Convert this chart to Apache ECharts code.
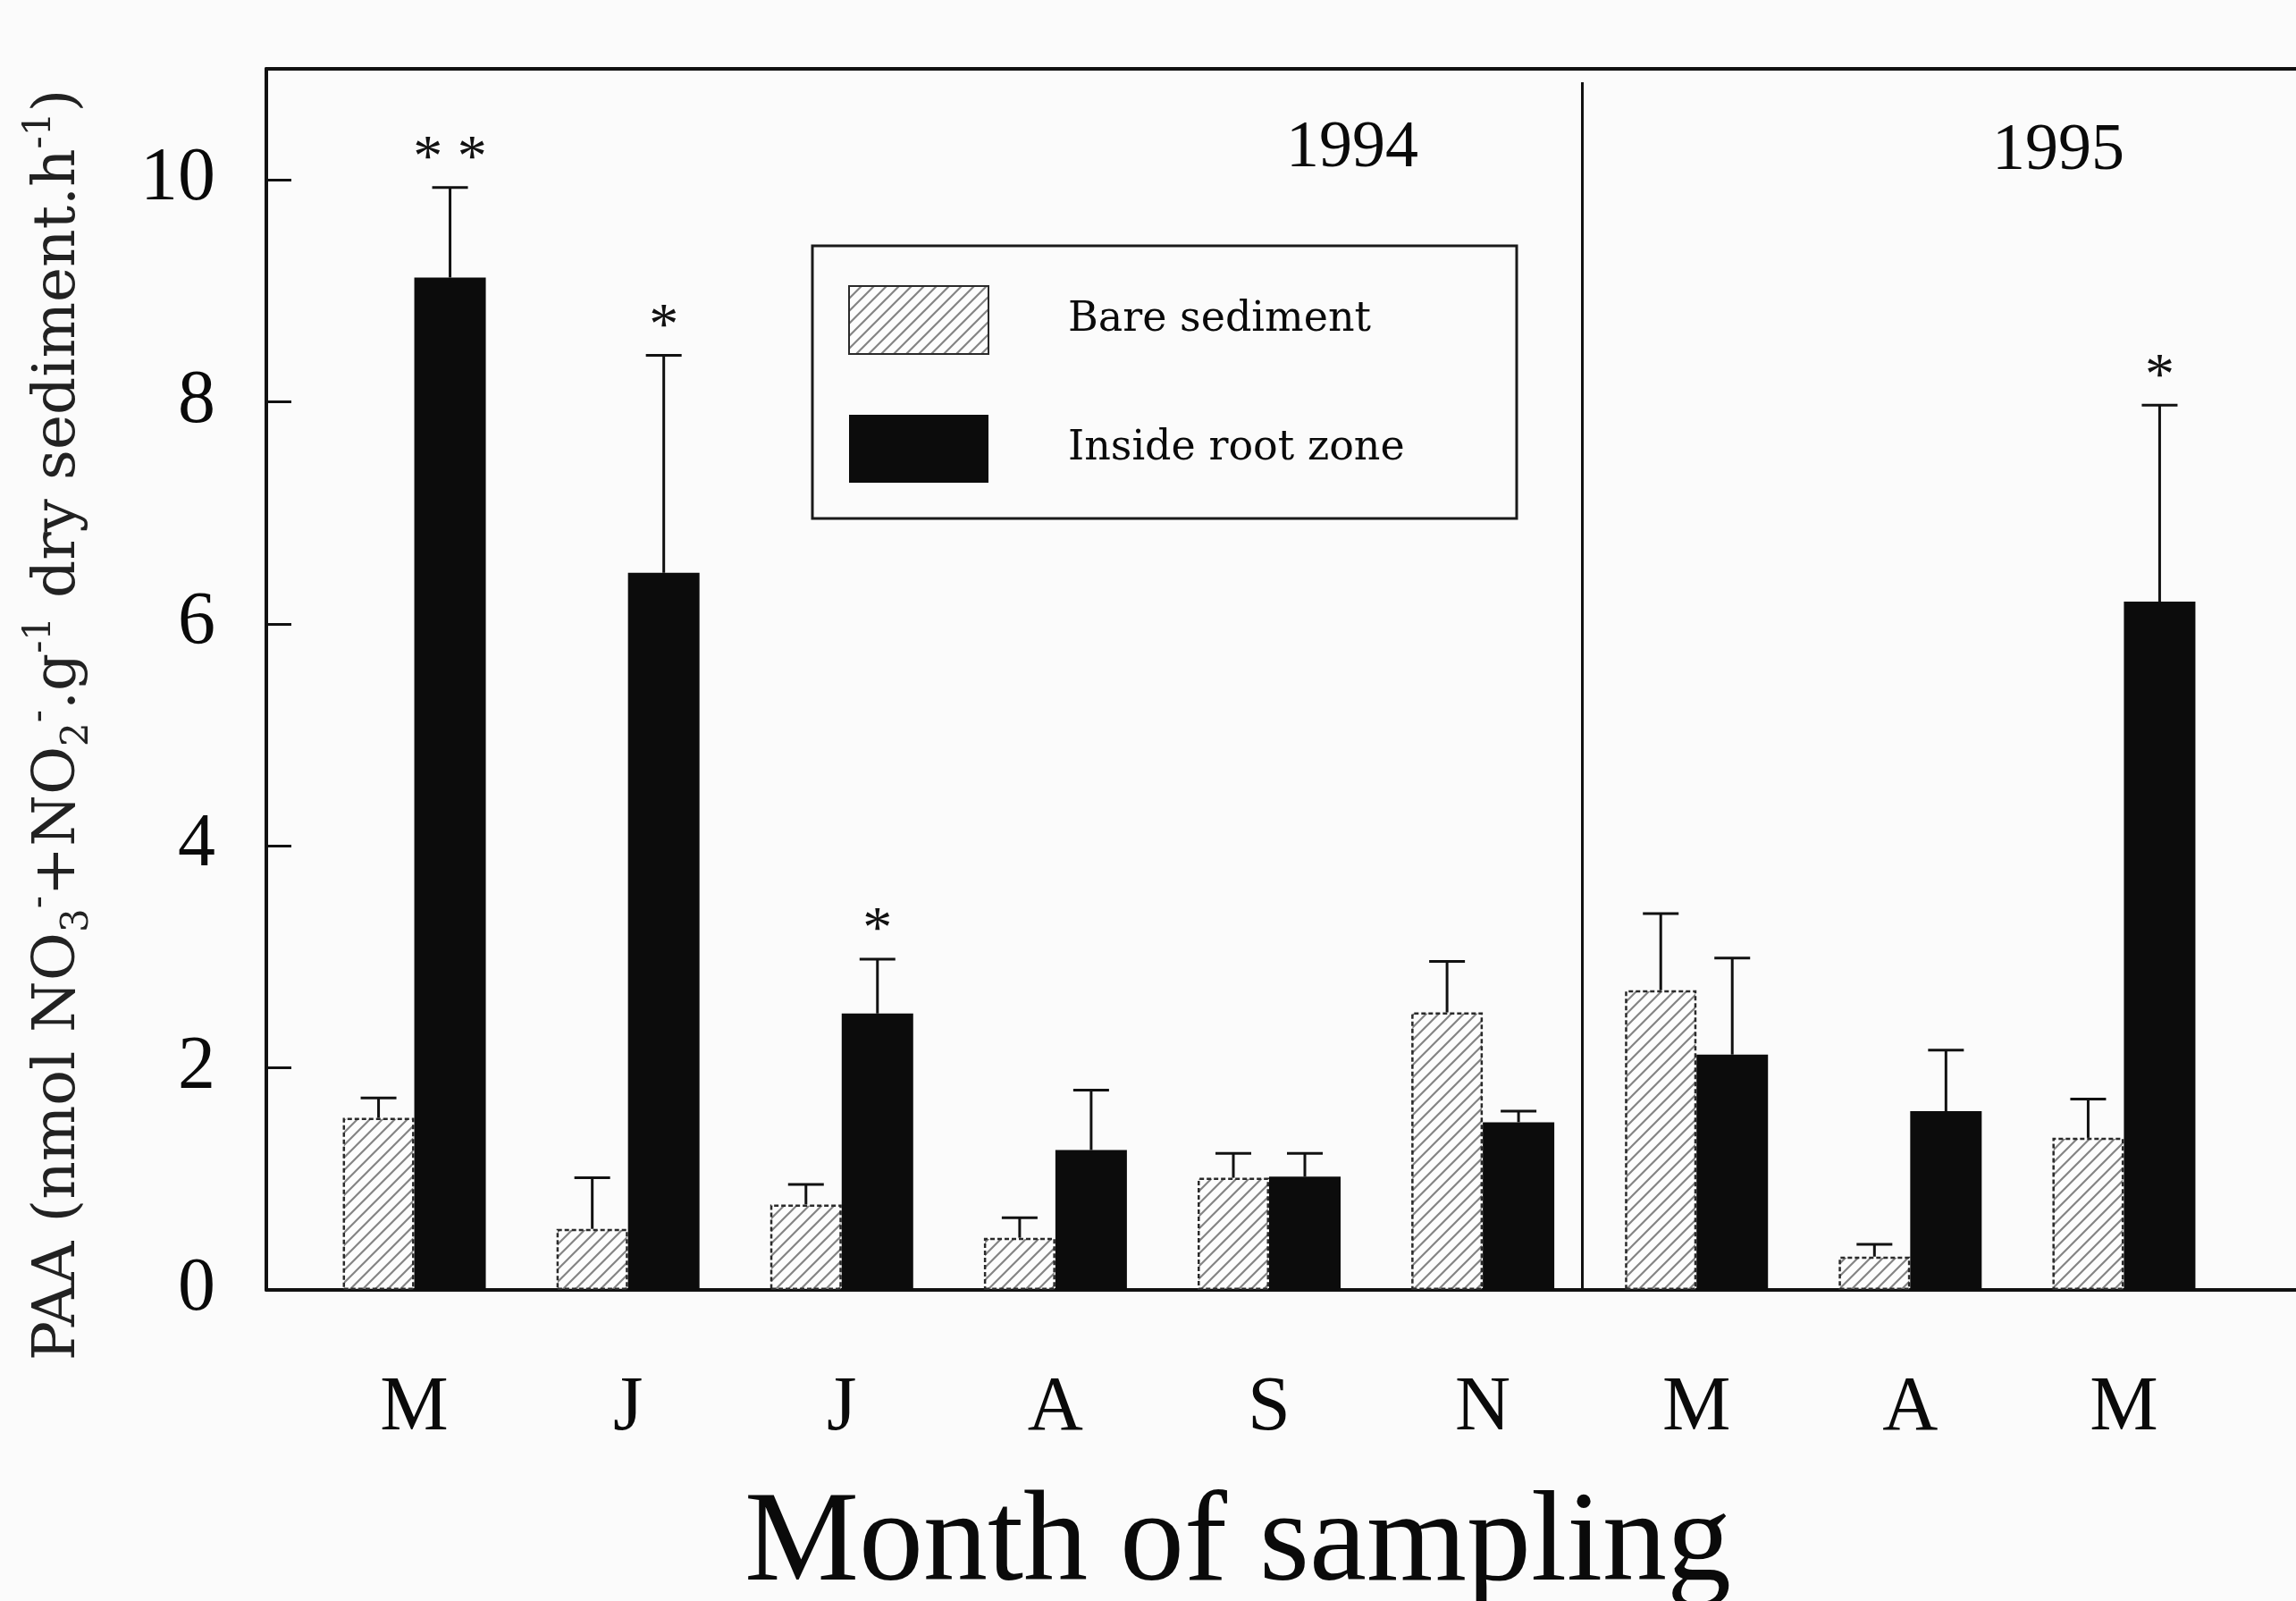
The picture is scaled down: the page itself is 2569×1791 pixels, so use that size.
<!DOCTYPE html>
<html>
<head>
<meta charset="utf-8">
<title>PAA</title>
<script src="https://cdn.jsdelivr.net/npm/echarts@6/dist/echarts.min.js"></script>
<style>
html, body { margin: 0; padding: 0; background: #fbfbfb; }
#chart { width: 2569px; height: 1791px; }
</style>
</head>
<body>
<div id="chart"></div>
<script>
// months sampled (1994: M J J A S N, 1995: M A M)
var months   = ['M', 'J', 'J', 'A', 'S', 'N', 'M', 'A', 'M'];
var bareMean = [1.55, 0.55, 0.77, 0.47, 1.01, 2.50, 2.70, 0.30, 1.37];
var bareTop  = [1.73, 1.01, 0.95, 0.65, 1.23, 2.96, 3.39, 0.41, 1.72];   // mean + error
var rootMean = [9.12, 6.46, 2.49, 1.26, 1.02, 1.51, 2.12, 1.61, 6.20];
var rootTop  = [9.93, 8.42, 2.98, 1.80, 1.23, 1.61, 2.99, 2.16, 7.97];
var rootSig  = ['**', '*', '*', '', '', '', '', '', '*'];
var years    = ['1994', '1995'];
var yMin = 0, yMax = 11, yStep = 2;
var yearSplit = 5.47;      // between N (1994) and M (1995), category units
var frameMin = -0.69, frameMax = 8.81;

var BAR_W = 80;
var SERIF = '"Liberation Serif", "Times New Roman", serif';
var SERIF2 = '"DejaVu Serif", serif';

function hatch() {
    var c = document.createElement('canvas');
    c.width = 14; c.height = 14;
    var g = c.getContext('2d');
    g.fillStyle = '#fdfdfd';
    g.fillRect(0, 0, 14, 14);
    g.strokeStyle = '#858585';
    g.lineWidth = 2.2;
    g.beginPath();
    g.moveTo(0, 14); g.lineTo(14, 0);
    g.moveTo(-2, 2); g.lineTo(2, -2);
    g.moveTo(12, 16); g.lineTo(16, 12);
    g.stroke();
    return c;
}

function errBars(mean, top, side, sig) {
    return {
        type: 'custom',
        xAxisIndex: 1,
        yAxisIndex: 1,
        z: 5,
        silent: true,
        data: mean.map(function (m, i) { return [i, m, top[i]]; }),
        renderItem: function (params, api) {
            var i = api.value(0);
            var p0 = api.coord([i, api.value(1)]);
            var p1 = api.coord([i, api.value(2)]);
            var x = p0[0] + side * BAR_W / 2;
            var st = { stroke: '#111', lineWidth: 3 };
            var kids = [
                { type: 'line', shape: { x1: x, y1: p0[1], x2: x, y2: p1[1] }, style: st },
                { type: 'line', shape: { x1: x - 20, y1: p1[1], x2: x + 20, y2: p1[1] }, style: st }
            ];
            var s = sig ? sig[params.dataIndex] : '';
            if (s) {
                kids.push({
                    type: 'text',
                    x: x, y: p1[1] + 2,
                    style: {
                        text: s.split('').join(' '), fill: '#111', fontSize: 66, fontFamily: SERIF,
                        align: 'center', verticalAlign: 'bottom'
                    }
                });
            }
            return { type: 'group', children: kids };
        }
    };
}

var myChart = echarts.init(document.getElementById('chart'));

var option = {
    backgroundColor: '#fbfbfb',
    animation: false,
    textStyle: { fontFamily: SERIF, color: '#111' },
    grid: [
        // frame
        { left: 298, right: 0, top: 77, bottom: 348, containLabel: false, outerBoundsMode: 'none' },
        // bars
        { left: 344, right: 73, top: 77, bottom: 348, containLabel: false, outerBoundsMode: 'none' }
    ],
    legend: {
        orient: 'vertical',
        left: 949,
        top: 319,
        padding: 0,
        icon: 'rect',
        itemWidth: 156,
        itemHeight: 76,
        itemGap: 67,
        data: ['Bare sediment', 'Inside root zone'],
        textStyle: { fontFamily: SERIF2, fontSize: 46, color: '#0a0a0a', padding: [12, 0, 0, 84] }
    },
    xAxis: [
        {
            type: 'value', gridIndex: 0, min: frameMin, max: frameMax, position: 'bottom',
            axisLine: { show: true, onZero: false, lineStyle: { color: '#111', width: 4 } },
            axisTick: { show: false }, axisLabel: { show: false }, splitLine: { show: false }
        },
        {
            type: 'category', gridIndex: 1, data: months,
            axisLine: { show: false }, axisTick: { show: false }, splitLine: { show: false },
            axisLabel: { margin: 90, fontSize: 86, fontFamily: SERIF, color: '#0a0a0a' },
            name: 'Month of sampling',
            nameLocation: 'middle',
            nameGap: 214,
            nameTextStyle: { fontSize: 144, fontFamily: SERIF, color: '#0a0a0a', padding: [0, 70, 0, 0] }
        },
        {
            type: 'value', gridIndex: 0, min: frameMin, max: frameMax, position: 'top',
            axisLine: { show: true, onZero: false, lineStyle: { color: '#111', width: 4 } },
            axisTick: { show: false }, axisLabel: { show: false }, splitLine: { show: false }
        }
    ],
    yAxis: [
        {
            type: 'value', gridIndex: 0, min: yMin, max: yMax, interval: yStep,
            axisLine: { show: true, onZero: false, lineStyle: { color: '#111', width: 4 } },
            axisTick: { show: true, inside: true, length: 28, lineStyle: { color: '#111', width: 3 } },
            axisLabel: { margin: 57, fontSize: 84, fontFamily: SERIF, color: '#0a0a0a', showMaxLabel: false, padding: [22, 0, 0, 0] },
            splitLine: { show: false },
            name: 'PAA (nmol NO{sub|3}{sup|-}+NO{sub|2}{sup|-}.g{sup|-1} dry sediment.h{sup|-1})',
            nameLocation: 'middle',
            nameRotate: 90,
            nameGap: 190,
            nameTextStyle: {
                fontFamily: SERIF2, fontSize: 66, lineHeight: 84, color: '#222',
                padding: [0, 102, 0, 0],
                rich: {
                    sub: { fontFamily: SERIF2, fontSize: 42, lineHeight: 42, verticalAlign: 'bottom', color: '#222' },
                    sup: { fontFamily: SERIF2, fontSize: 42, lineHeight: 42, verticalAlign: 'top', color: '#222' }
                }
            }
        },
        {
            type: 'value', gridIndex: 1, min: yMin, max: yMax, interval: yStep, show: false
        }
    ],
    graphic: [
        {
            type: 'rect', z: 10, silent: true,
            shape: { x: 909, y: 275, width: 788, height: 305 },
            style: { fill: 'none', stroke: '#1a1a1a', lineWidth: 3 }
        },
        {
            type: 'text', x: 1513, y: 167, z: 10, silent: true,
            style: { text: years[0], fill: '#0a0a0a', fontSize: 74, fontFamily: SERIF, align: 'center', verticalAlign: 'middle' }
        },
        {
            type: 'text', x: 2303, y: 170, z: 10, silent: true,
            style: { text: years[1], fill: '#0a0a0a', fontSize: 74, fontFamily: SERIF, align: 'center', verticalAlign: 'middle' }
        }
    ],
    series: [
        {
            name: 'Bare sediment',
            type: 'bar',
            xAxisIndex: 1, yAxisIndex: 1,
            barWidth: BAR_W,
            barGap: '0%',
            data: bareMean,
            itemStyle: {
                color: { image: hatch(), repeat: 'repeat' },
                borderColor: '#2a2a2a', borderWidth: 2.5, borderType: [5, 3]
            }
        },
        {
            name: 'Inside root zone',
            type: 'bar',
            xAxisIndex: 1, yAxisIndex: 1,
            barWidth: BAR_W,
            barGap: '0%',
            data: rootMean,
            itemStyle: { color: '#0c0c0c' }
        },
        errBars(bareMean, bareTop, -1, null),
        errBars(rootMean, rootTop, 1, rootSig),
        {
            // year divider
            type: 'line',
            xAxisIndex: 0, yAxisIndex: 0,
            data: [],
            silent: true,
            markLine: {
                silent: true,
                symbol: 'none',
                label: { show: false },
                lineStyle: { color: '#111', width: 3, type: 'solid' },
                data: [[{ coord: [yearSplit, 10.88] }, { coord: [yearSplit, 0] }]]
            }
        }
    ]
};

myChart.setOption(option);
</script>
</body>
</html>
